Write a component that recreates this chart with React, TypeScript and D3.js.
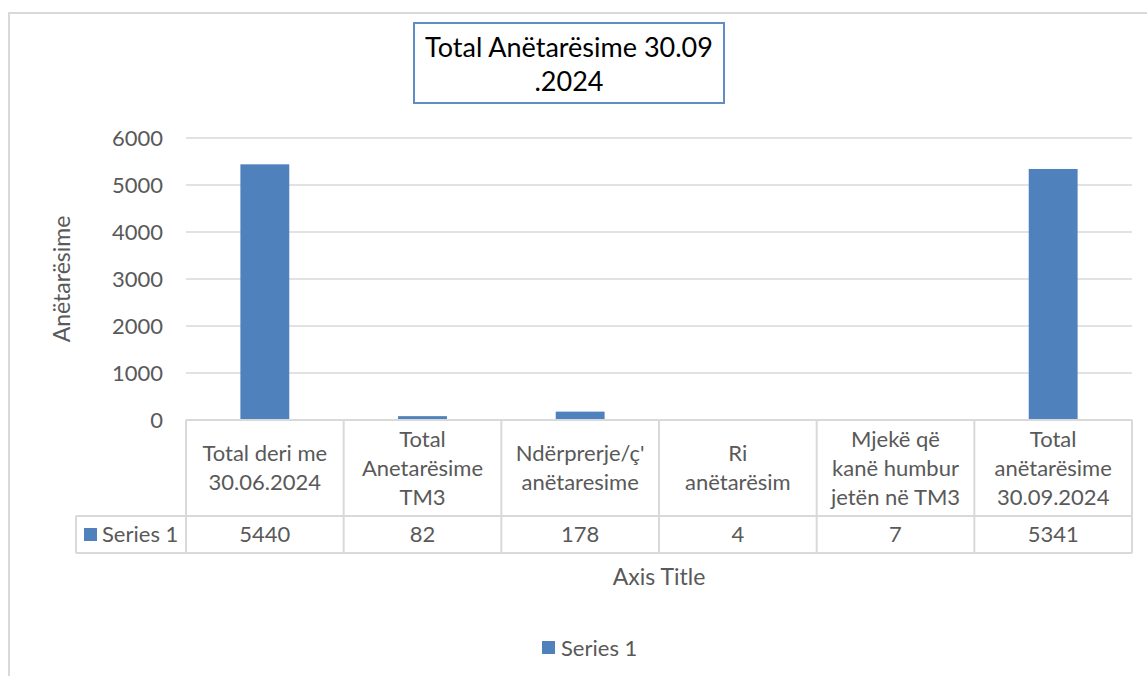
import React from "react";
import * as d3 from "d3";

// chart data
const categories = [
  ["Total deri me", "30.06.2024"],
  ["Total", "Anetarësime", "TM3"],
  ["Ndërprerje/ç'", "anëtaresime"],
  ["Ri", "anëtarësim"],
  ["Mjekë që", "kanë humbur", "jetën në TM3"],
  ["Total", "anëtarësime", "30.09.2024"],
];
const seriesName = "Series 1";
const values = [5440, 82, 178, 4, 7, 5341];
const yTicks = [0, 1000, 2000, 3000, 4000, 5000, 6000];
const titleLines = ["Total Anëtarësime 30.09", ".2024"];
const yAxisTitle = "Anëtarësime";
const xAxisTitle = "Axis Title";

const W = 1147;
const H = 676;
const FONT = "Lato, 'Open Sans', sans-serif";
const TEXT = "#595959";
const GRID = "#d9d9d9";
const BAR = "#4f81bd";
const FS = 22;

const plotLeft = 186;
const plotRight = 1132;
const plotTop = 138;
const plotBottom = 420;
const headerBottom = 516;
const tableBottom = 553;
const legendCellLeft = 76;

export default function App() {
  const idx = categories.map((_, i) => i);

  const cell = d3.scaleBand<number>().domain(idx).range([plotLeft, plotRight]);
  const x = d3
    .scaleBand<number>()
    .domain(idx)
    .range([plotLeft, plotRight])
    .paddingInner(0.69)
    .paddingOuter(0.345);
  const y = d3.scaleLinear().domain([0, 6000]).range([plotBottom, plotTop]);

  const lineH = 29;
  const headerMid = (plotBottom + headerBottom) / 2;
  const valueMid = (headerBottom + tableBottom) / 2;

  return (
    <div style={{ position: "absolute", left: 0, top: 0 }}>
      <svg width={W} height={H} style={{ display: "block", fontFamily: FONT }}>
        <rect x={0} y={0} width={W} height={H} fill="#fff" />
        {/* outer chart border */}
        <rect x={9} y={13} width={W + 20} height={H + 20} fill="none" stroke={GRID} strokeWidth={2} />

        {/* title */}
        <rect x={414} y={23} width={310} height={80} fill="#fff" stroke="#4f81bd" strokeWidth={2} opacity={0.9} />
        {titleLines.map((t, i) => (
          <text key={t} x={569} y={57 + i * 34} textAnchor="middle" fontSize={27} fill="#000">
            {t}
          </text>
        ))}

        {/* gridlines and y ticks */}
        {yTicks.map((t) => (
          <g key={t}>
            {t > 0 && (
              <line x1={plotLeft} x2={plotRight} y1={y(t)} y2={y(t)} stroke={GRID} strokeWidth={1.5} />
            )}
            <text x={163} y={y(t)} dy="0.35em" textAnchor="end" fontSize={FS} fill={TEXT}>
              {t}
            </text>
          </g>
        ))}

        {/* bars */}
        {values.map((v, i) => (
          <rect key={i} x={x(i)} y={y(v)} width={x.bandwidth()} height={y(0) - y(v)} fill={BAR} />
        ))}

        {/* data table */}
        <g stroke={GRID} strokeWidth={2} fill="none">
          <line x1={plotLeft} x2={plotRight} y1={plotBottom} y2={plotBottom} />
          <line x1={legendCellLeft} x2={plotRight} y1={headerBottom} y2={headerBottom} />
          <line x1={legendCellLeft} x2={plotRight} y1={tableBottom} y2={tableBottom} />
          <line x1={legendCellLeft} x2={legendCellLeft} y1={headerBottom} y2={tableBottom} />
          {idx.map((i) => (
            <line key={i} x1={cell(i)} x2={cell(i)} y1={plotBottom} y2={tableBottom} />
          ))}
          <line x1={plotRight} x2={plotRight} y1={plotBottom} y2={tableBottom} />
        </g>
        {categories.map((lines, i) => (
          <g key={i}>
            {lines.map((l, j) => (
              <text
                key={j}
                x={cell(i)! + cell.bandwidth() / 2}
                y={headerMid + (j - (lines.length - 1) / 2) * lineH}
                dy="0.35em"
                textAnchor="middle"
                fontSize={FS}
                fill={TEXT}
              >
                {l}
              </text>
            ))}
            <text
              x={cell(i)! + cell.bandwidth() / 2}
              y={valueMid}
              dy="0.35em"
              textAnchor="middle"
              fontSize={FS}
              fill={TEXT}
            >
              {values[i]}
            </text>
          </g>
        ))}
        <rect x={84} y={528} width={13} height={13} fill={BAR} />
        <text x={102} y={valueMid} dy="0.35em" fontSize={FS} fill={TEXT}>
          {seriesName}
        </text>

        {/* axis titles */}
        <text
          transform={`translate(62,${(plotTop + plotBottom) / 2}) rotate(-90)`}
          dy="0.35em"
          textAnchor="middle"
          fontSize={23}
          fill={TEXT}
        >
          {yAxisTitle}
        </text>
        <text x={(plotLeft + plotRight) / 2} y={577} dy="0.35em" textAnchor="middle" fontSize={23} fill={TEXT}>
          {xAxisTitle}
        </text>

        {/* legend */}
        <rect x={542} y={641} width={13} height={13} fill={BAR} />
        <text x={561} y={648} dy="0.35em" fontSize={FS} fill={TEXT}>
          {seriesName}
        </text>
      </svg>
    </div>
  );
}
